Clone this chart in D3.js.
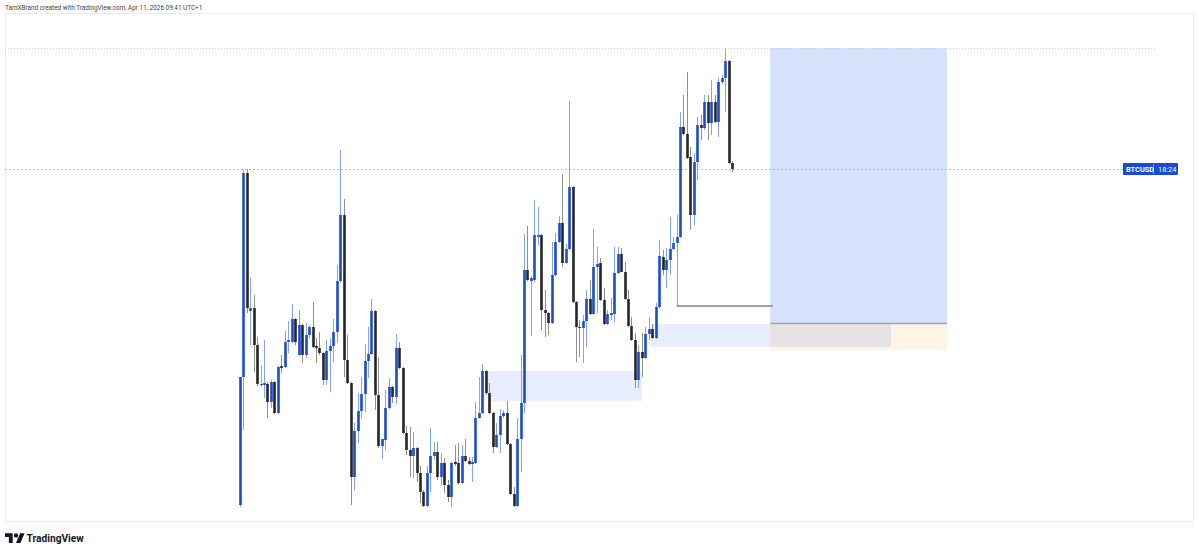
<!DOCTYPE html>
<meta charset="utf-8">
<style>

body {
  margin: 0;
  background: #fff;
}

svg {
  display: block;
  font-family: Roboto, "Noto Sans", sans-serif;
}

.wick {
  stroke-width: 1px;
  shape-rendering: crispEdges;
}

</style>
<svg width="1199" height="552"></svg>
<script src="https://d3js.org/d3.v7.min.js"></script>
<script>

// BTCUSD candles (price in chart points)
var opens = [95,223,427,289,292,255,215,215,216,198, 218,187,234,233,258,258,281,245,275,245,
  265,273,254,252,247,220,249,254,268,319, 385,240,217,123,169,189,206,239,246,289,
  205,154,160,192,213,203,252,232,167,150, 144,152,127,108,94,127,144,148,123,137,
  115,103,138,137,117,144,139,136,137,182, 187,229,207,187,153,165,184,187,156,106,
  94,161,197,330,319,320,363,365,290,287, 277,325,358,377,337,351,413,298,273,272,
  279,301,286,333,337,300,276,285,286,327, 346,328,301,274,260,220,248,242,266,271,
  262,293,343,330,340,351,357,363,473,466, 443,385,438,475,472,498,477,498,478,518,
  522,539,437];

var highs = [223,430,431,322,305,263,235,260,218,220, 219,234,245,269,279,296,282,290,276,277,
  275,298,262,268,248,260,262,281,335,450, 401,265,218,177,207,223,256,273,301,290,
  243,161,210,222,214,266,258,233,174,173, 168,153,134,110,134,172,158,158,147,142,
  120,138,155,157,155,161,143,143,198,223, 236,230,217,188,177,191,190,199,157,113,
  182,245,366,374,324,400,393,366,310,288, 358,367,384,426,356,499,414,299,280,285,
  310,320,371,353,342,312,290,302,353,353, 352,338,310,283,267,255,267,273,283,276,
  297,360,350,352,383,363,385,488,505,528, 453,447,483,485,505,505,520,505,522,525,
  552,540,439];

var lows = [93,170,287,255,228,214,213,202,182,192, 186,186,227,232,247,257,255,244,237,242,
  262,252,237,245,215,215,208,238,257,318, 223,216,95,110,157,182,188,222,245,190,
  152,141,150,191,197,196,231,166,145,123, 122,118,97,93,93,108,140,120,115,107,
  98,93,134,115,116,138,135,118,136,181, 186,205,186,147,152,147,182,155,105,93,
  93,128,187,319,264,318,355,270,263,265, 276,324,357,333,336,350,297,238,243,237,
  253,285,285,287,299,275,275,280,278,326, 328,300,273,259,212,212,223,241,260,261,
  261,292,325,312,325,350,294,362,465,441, 370,375,420,460,470,460,465,477,463,516,
  488,436,428];

var closes = [223,427,292,292,255,216,216,217,198,218, 187,233,232,258,260,281,258,275,245,265,
  273,253,252,247,220,249,254,268,319,385, 240,217,123,169,189,206,239,246,289,205,
  154,161,192,213,203,252,232,167,150,144, 152,127,108,94,127,144,148,123,137,115,
  103,137,136,117,144,139,136,138,182,187, 229,207,187,153,165,184,187,156,106,94,
  161,197,330,320,322,365,365,290,287,277, 325,358,377,337,351,413,298,273,272,279,
  301,286,333,336,300,276,286,287,327,346, 328,301,274,260,220,248,242,266,271,262,
  293,344,330,340,351,357,363,473,466,442, 385,438,475,472,498,477,498,478,518,522,
  539,437,431];

// drawings: fair value gaps (bar index from/to, price top/bottom)
var gapFrom = [71.6, 118.6];
var gapTo = [116, 187.9];
var gapTop = [229, 276];
var gapBottom = [199, 253];

// long position tool
var longFrom = 153, longTo = 204;
var longTarget = 552, longEntry = 277, longStop = 250;

// horizontal ray from the wick low
var rayFrom = 126, rayTo = 153.8, rayPrice = 294;

var symbol = "BTCUSD", countdown = "18:24";
var credit = "TamXBrand created with TradingView.com, Apr 11, 2026 09:41 UTC+1";

var svg = d3.select("svg"),
    width = +svg.attr("width"),
    height = +svg.attr("height");

var pane = {left: 5, top: 14, right: 1193, bottom: 521};

var x = d3.scaleLinear().domain([0, opens.length - 1]).range([239.7, 732]);
var y = d3.scaleLinear().domain([79, 586]).range([pane.bottom, pane.top]);

var bullBody = "#1a4bd3", bullWick = "#86a2f2",
    bearBody = "#262626", bearWick = "#8f8f8f";

var candles = opens.map(function(o, i) {
  return {i: i, open: o, high: highs[i], low: lows[i], close: closes[i]};
});

// frame
svg.append("rect")
    .attr("x", pane.left + 0.5)
    .attr("y", pane.top - 0.5)
    .attr("width", pane.right - pane.left)
    .attr("height", pane.bottom - pane.top + 1)
    .attr("fill", "none")
    .attr("stroke", "#ebebeb");

// credit line
svg.append("text")
    .attr("x", 5)
    .attr("y", 9.5)
    .attr("font-size", "6.4px")
    .attr("fill", "#444")
    .text(credit);

// gaps
var gaps = gapFrom.map(function(f, k) {
  return {from: f, to: gapTo[k], top: gapTop[k], bottom: gapBottom[k]};
});

// long position (stop zone first so the gap blends over it)
svg.append("rect")
    .attr("x", x(longFrom))
    .attr("y", y(longEntry))
    .attr("width", x(longTo) - x(longFrom))
    .attr("height", y(longStop) - y(longEntry))
    .attr("fill", "rgba(255,152,0,0.11)");

svg.append("rect")
    .attr("x", x(longFrom))
    .attr("y", y(longTarget))
    .attr("width", x(longTo) - x(longFrom))
    .attr("height", y(longEntry) - y(longTarget))
    .attr("fill", "rgba(38,96,240,0.19)");

svg.append("g")
  .selectAll("rect")
  .data(gaps)
  .enter().append("rect")
    .attr("x", function(d) { return x(d.from); })
    .attr("y", function(d) { return y(d.top); })
    .attr("width", function(d) { return x(d.to) - x(d.from); })
    .attr("height", function(d) { return y(d.bottom) - y(d.top); })
    .attr("fill", "rgba(41,98,255,0.11)");

svg.append("line")
    .attr("x1", x(longFrom))
    .attr("x2", x(longTo))
    .attr("y1", y(longEntry) + 0.5)
    .attr("y2", y(longEntry) + 0.5)
    .attr("stroke", "#a3a3a8")
    .attr("stroke-width", 1.5);

// ray
svg.append("line")
    .attr("x1", x(rayFrom))
    .attr("x2", x(rayTo))
    .attr("y1", y(rayPrice))
    .attr("y2", y(rayPrice))
    .attr("stroke", "#808389")
    .attr("stroke-width", 1.4);

// high line and last price line
var hi = d3.max(highs), last = closes[closes.length - 1];

svg.append("line")
    .attr("x1", pane.left)
    .attr("x2", 1155)
    .attr("y1", Math.round(y(hi)) + 0.5)
    .attr("y2", Math.round(y(hi)) + 0.5)
    .attr("stroke", "#c9ccd4")
    .attr("stroke-dasharray", "1,2");

svg.append("line")
    .attr("x1", pane.left)
    .attr("x2", 1123)
    .attr("y1", Math.round(y(last)) + 0.5)
    .attr("y2", Math.round(y(last)) + 0.5)
    .attr("stroke", "#a6bbf4")
    .attr("stroke-dasharray", "2,2");

// candles
var candle = svg.append("g")
  .selectAll("g")
  .data(candles)
  .enter().append("g");

candle.append("line")
    .attr("class", "wick")
    .attr("x1", function(d) { return Math.round(x(d.i)) + 0.5; })
    .attr("x2", function(d) { return Math.round(x(d.i)) + 0.5; })
    .attr("y1", function(d) { return y(d.high); })
    .attr("y2", function(d) { return y(d.low); })
    .attr("stroke", function(d) { return d.close >= d.open ? bullWick : bearWick; });

candle.append("rect")
    .attr("x", function(d) { return Math.round(x(d.i)) + 0.5 - 1.3; })
    .attr("y", function(d) { return y(Math.max(d.open, d.close)); })
    .attr("width", 2.6)
    .attr("height", function(d) { return Math.max(1, Math.abs(y(d.open) - y(d.close))); })
    .attr("fill", function(d) { return d.close >= d.open ? bullBody : bearBody; });

// price label
var label = svg.append("g")
    .attr("transform", "translate(1123," + (Math.round(y(last)) - 6) + ")");

label.append("rect")
    .attr("width", 55)
    .attr("height", 12)
    .attr("rx", 1)
    .attr("fill", "#1a4bd3");

label.append("line")
    .attr("x1", 30.5).attr("x2", 30.5)
    .attr("y1", 1).attr("y2", 11)
    .attr("stroke", "#7e9bf0");

label.append("text")
    .attr("x", 3)
    .attr("y", 8.7)
    .attr("font-size", "7.4px")
    .attr("font-weight", 700)
    .attr("fill", "#fff")
    .text(symbol);

label.append("text")
    .attr("x", 35)
    .attr("y", 8.7)
    .attr("font-size", "7.4px")
    .attr("fill", "#fff")
    .text(countdown);

// tradingview mark
var logo = svg.append("g")
    .attr("transform", "translate(5,531) scale(0.55)")
    .attr("fill", "#131722");

logo.append("path").attr("d", "M14 22H7V11H0V4h14v18z");
logo.append("path").attr("d", "M28 22h-8l7.5-18h8L28 22z");
logo.append("circle").attr("cx", 20).attr("cy", 8).attr("r", 4);

svg.append("text")
    .attr("x", 26.5)
    .attr("y", 542)
    .attr("font-size", "10.2px")
    .attr("font-weight", 700)
    .attr("fill", "#131722")
    .text("TradingView");

</script>
